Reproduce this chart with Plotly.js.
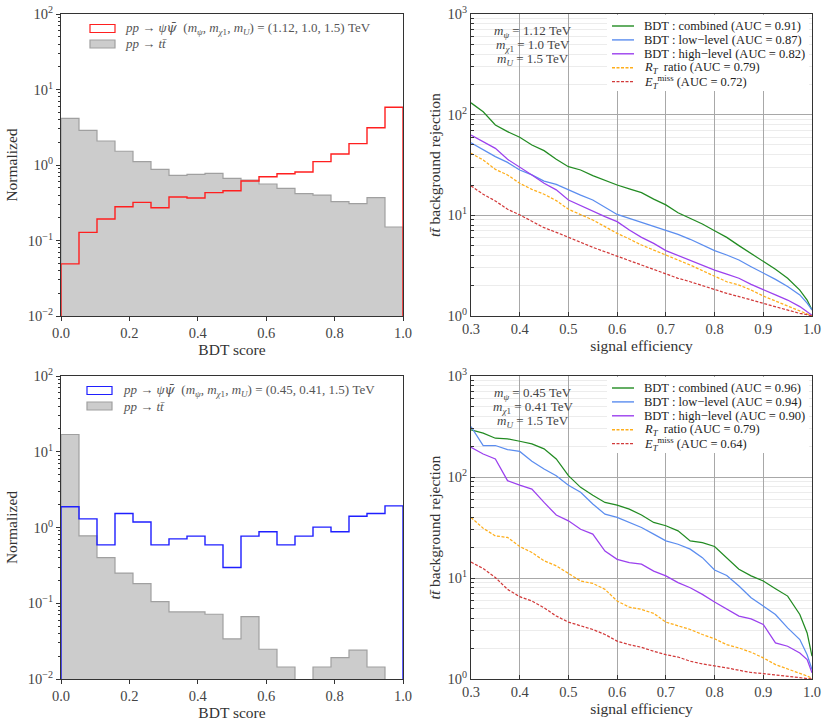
<!DOCTYPE html>
<html>
<head>
<meta charset="utf-8">
<script src="https://cdn.plot.ly/plotly-3.0.1.min.js"></script>
<style>
  body { margin: 0; background: #fff; }
  #plot { width: 830px; height: 726px; }
</style>
</head>
<body>
<div id="plot"></div>
<script>
// ---- histogram data: 19 equal bins of BDT score on [0, 1] ----
const nBins = 19;
const sigTop = [0.049, 0.128, 0.193, 0.28, 0.32, 0.272, 0.377, 0.366, 0.43, 0.457, 0.614, 0.70, 0.767, 0.807, 1.107, 1.40, 1.92, 3.12, 5.81];
const bkgTop = [4.15, 2.88, 2.08, 1.52, 1.107, 0.877, 0.73, 0.752, 0.776, 0.666, 0.63, 0.56, 0.49, 0.417, 0.40, 0.327, 0.307, 0.369, 0.151];
const sigBot = [1.88, 1.30, 0.59, 1.53, 1.18, 0.59, 0.708, 0.77, 0.59, 0.296, 0.77, 0.877, 0.59, 0.77, 1.01, 0.877, 1.41, 1.53, 1.93];
const bkgBot = [16.9, 0.776, 0.40, 0.25, 0.182, 0.105, 0.0768, 0.0768, 0.0716, 0.0338, 0.0667, 0.0247, 0.0144, 0, 0.0144, 0.0191, 0.0240, 0.0144, 0];

// ---- ROC curves: background rejection vs signal efficiency ----
const effPts = [0.30, 0.325, 0.35, 0.375, 0.40, 0.425, 0.45, 0.475, 0.50, 0.525, 0.55, 0.575, 0.60, 0.625, 0.65, 0.675,
                0.70, 0.725, 0.75, 0.775, 0.80, 0.825, 0.85, 0.875, 0.90, 0.925, 0.95, 0.975, 0.99, 1.0];
// heavy point (1.12, 1.0, 1.5) TeV
const combA = [131, 107, 79, 67.8, 59.6, 50, 43.9, 36, 30.4, 28.2, 24.8, 22.1, 20, 18.3, 16.8, 14.5, 12.7, 10.6, 9.33, 8.2, 7.04, 6.04, 5.0, 4.2, 3.52, 2.91, 2.37, 1.81, 1.44, 1.15];
const lowA  = [52.7, 44.6, 38.3, 33.6, 28.2, 25.2, 21.9, 20.3, 17.9, 15.9, 14.2, 12.0, 10.2, 9.33, 8.52, 7.72, 6.99, 6.47, 5.78, 5.07, 4.46, 4.04, 3.6, 3.09, 2.69, 2.31, 1.96, 1.62, 1.34, 1.15];
const highA = [62.8, 53.9, 46.3, 36, 30.4, 25.2, 20.8, 17.9, 14.2, 12.5, 10.9, 9.7, 8.65, 7.15, 6.04, 5.27, 4.46, 3.98, 3.6, 3.21, 2.86, 2.61, 2.37, 2.06, 1.81, 1.62, 1.44, 1.24, 1.1, 1.02];
const rtA   = [41.3, 35.5, 28.6, 25.2, 20.8, 18.1, 16.2, 14.0, 11.5, 10.2, 9.0, 7.72, 6.62, 5.82, 5.07, 4.52, 4.04, 3.55, 3.21, 2.82, 2.5, 2.19, 2.03, 1.81, 1.58, 1.41, 1.26, 1.13, 1.06, 1.0];
const metA  = [19.6, 16.2, 13.9, 11.5, 10.1, 8.79, 7.54, 6.78, 6.04, 5.39, 4.81, 4.35, 3.94, 3.52, 3.21, 2.91, 2.65, 2.37, 2.19, 2.0, 1.81, 1.68, 1.56, 1.44, 1.34, 1.24, 1.15, 1.06, 1.03, 1.0];
// light point (0.45, 0.41, 1.5) TeV
const combB = [293, 272, 242, 239, 226, 213, 190, 151, 103, 79, 66, 56, 52.7, 48.1, 42, 35.5, 32.9, 29.3, 23.3, 22.4, 20.5, 15.9, 12.2, 10.5, 9.33, 7.83, 6.62, 4.35, 2.86, 1.68];
const lowB  = [316, 205, 205, 187, 179, 143, 120, 103, 83, 70.5, 54, 42.9, 39.8, 35.5, 31.6, 27.2, 23.3, 21.6, 19.3, 15.9, 12.0, 10.6, 8.33, 6.38, 5.27, 4.35, 3.21, 2.46, 1.74, 1.24];
const highB = [197, 169, 151, 92, 83, 76, 56, 42, 36.8, 30.4, 27.2, 18.5, 15.3, 14.2, 13.7, 11.7, 10.5, 9.0, 8.0, 6.88, 5.78, 4.89, 4.2, 3.94, 3.47, 2.28, 2.11, 1.81, 1.56, 1.15];
const rtB   = [39.7, 31.1, 26.1, 25.2, 20.5, 17.9, 14.8, 13.2, 11.1, 9.33, 8.85, 7.72, 5.91, 5.15, 4.89, 4.46, 3.66, 3.39, 3.09, 2.76, 2.5, 2.19, 2.03, 1.84, 1.62, 1.39, 1.26, 1.15, 1.07, 1.02];
const metB  = [14.4, 12.4, 10.1, 7.72, 6.53, 5.91, 5.07, 4.2, 3.66, 3.34, 3.09, 2.76, 2.37, 2.19, 2.06, 1.88, 1.74, 1.65, 1.5, 1.41, 1.36, 1.29, 1.22, 1.16, 1.13, 1.09, 1.06, 1.03, 1.01, 1.0];

// ---- labels ----
const psiBar = '<span style="font-family:DejaVu Serif">ψ̄</span>';
const histLabelsTop = ['<i>pp</i> → <i>ψ' + psiBar + '</i>  (<i>m<sub>ψ</sub></i>, <i>m</i><sub><i>χ</i>1</sub>, <i>m<sub>U</sub></i>) = (1.12, 1.0, 1.5) TeV',
                       '<i>pp</i> → <i>tt̄</i>'];
const histLabelsBot = ['<i>pp</i> → <i>ψ' + psiBar + '</i>  (<i>m<sub>ψ</sub></i>, <i>m</i><sub><i>χ</i>1</sub>, <i>m<sub>U</sub></i>) = (0.45, 0.41, 1.5) TeV',
                       '<i>pp</i> → <i>tt̄</i>'];
const rocNames = ['BDT : combined', 'BDT : low−level', 'BDT : high−level', '<i>R<sub>T</sub></i>  ratio', '<i>E</i><sub><i>T</i></sub><sup>miss</sup>'];
const aucTop = ['0.91', '0.87', '0.82', '0.79', '0.72'];
const aucBot = ['0.96', '0.94', '0.90', '0.79', '0.64'];
const massTop = ['<i>m<sub>ψ</sub></i> = 1.12 TeV', '<i>m</i><sub><i>χ</i>1</sub> = 1.0 TeV', '<i>m<sub>U</sub></i> = 1.5 TeV'];
const massBot = ['<i>m<sub>ψ</sub></i> = 0.45 TeV', '<i>m</i><sub><i>χ</i>1</sub> = 0.41 TeV', '<i>m<sub>U</sub></i> = 1.5 TeV'];

const rocColors = ['#228b22', '#5b8def', '#9b40ee', '#ffae1a', '#d23a3a'];
const rocDash = ['solid', 'solid', 'solid', '3px,1.6px', '3px,1.6px'];

const FONT = 'Liberation Serif, DejaVu Serif, serif';
const W = 830, H = 726;
const px = v => v / W;
const py = v => 1 - v / H;

// plot boxes in pixels: [left, right, top, bottom]
const boxTL = [61, 403, 14, 316], boxTR = [471, 812, 14, 316];
const boxBL = [61, 403, 376, 679], boxBR = [471, 812, 376, 679];

const histRange = [-2, 2], rocRange = [0, 3];
const edges = Array.from({length: nBins + 1}, (_, i) => i / nBins);

function stepOutline(vals, floor) {
  const xs = [edges[0]], ys = [floor];
  vals.forEach((v, i) => {
    const h = v > 0 ? v : floor;
    xs.push(edges[i], edges[i + 1]);
    ys.push(h, h);
  });
  xs.push(edges[nBins]); ys.push(floor);
  return {x: xs, y: ys};
}

function powLabels(lo, hi) {
  const vals = [], text = [], minor = [];
  for (let e = lo; e <= hi; e++) {
    vals.push(Math.pow(10, e));
    text.push('10<sup>' + (e < 0 ? '−' + (-e) : e) + '</sup>');
    if (e < hi) for (let d = 2; d <= 9; d++) minor.push(d * Math.pow(10, e));
  }
  return {vals, text, minor};
}

let traces = [];

function addHist(sig, bkg, sigColor, xa, ya) {
  const floor = Math.pow(10, histRange[0] - 1);
  const b = stepOutline(bkg, floor), s = stepOutline(sig, floor);
  traces.push({x: b.x, y: b.y, xaxis: xa, yaxis: ya, type: 'scatter', mode: 'lines',
    fill: 'toself', fillcolor: '#cccccc', line: {color: '#a0a0a0', width: 1.2}, hoverinfo: 'skip'});
  traces.push({x: s.x, y: s.y, xaxis: xa, yaxis: ya, type: 'scatter', mode: 'lines',
    line: {color: sigColor, width: 1.4}, hoverinfo: 'skip'});
}

function addRoc(curves, xa, ya) {
  curves.forEach((c, i) => {
    traces.push({x: effPts, y: c, xaxis: xa, yaxis: ya, type: 'scatter', mode: 'lines',
      line: {color: rocColors[i], width: 1.25, dash: rocDash[i]}});
  });
}

addHist(sigTop, bkgTop, '#ff1f1f', 'x', 'y');
addRoc([combA, lowA, highA, rtA, metA], 'x2', 'y2');
addHist(sigBot, bkgBot, '#1f1fff', 'x3', 'y3');
addRoc([combB, lowB, highB, rtB, metB], 'x4', 'y4');

const hp = powLabels(histRange[0], histRange[1]);
const rp = powLabels(rocRange[0], rocRange[1]);

const tickFont = {family: FONT, size: 14.5, color: '#444'};
const titleFont = {family: FONT, size: 15.5, color: '#333'};

function histX(box, anchor) {
  return {domain: [px(box[0]), px(box[1])], anchor: anchor, range: [0, 1], dtick: 0.2, tickformat: '.1f',
    ticks: 'outside', ticklen: 4, tickcolor: '#333', showline: true, mirror: true, linecolor: '#333', linewidth: 1,
    showgrid: false, zeroline: false, tickfont: tickFont,
    title: {text: 'BDT score', font: titleFont, standoff: 0}};
}
function histY(box, anchor) {
  return {domain: [py(box[3]), py(box[2])], anchor: anchor, type: 'log', range: histRange,
    tickmode: 'array', tickvals: hp.vals, ticktext: hp.text,
    ticks: 'outside', ticklen: 4, tickcolor: '#333', showline: true, mirror: true, linecolor: '#333', linewidth: 1,
    minor: {tickmode: 'array', tickvals: hp.minor, ticks: 'outside', ticklen: 2.5, tickcolor: '#333', showgrid: false},
    showgrid: false, zeroline: false, tickfont: tickFont,
    title: {text: 'Normalized', font: titleFont, standoff: 6}};
}
function rocX(box, anchor) {
  return {domain: [px(box[0]), px(box[1])], anchor: anchor, range: [0.3, 1.0], dtick: 0.1, tick0: 0.3, tickformat: '.1f',
    ticks: 'inside', ticklen: 4, tickcolor: '#333', showline: true, mirror: true, linecolor: '#333', linewidth: 1,
    showgrid: true, gridcolor: '#a8a8a8', gridwidth: 1, zeroline: false, tickfont: tickFont,
    title: {text: 'signal efficiency', font: titleFont, standoff: 0}};
}
function rocY(box, anchor) {
  return {domain: [py(box[3]), py(box[2])], anchor: anchor, type: 'log', range: rocRange,
    tickmode: 'array', tickvals: rp.vals, ticktext: rp.text,
    ticks: 'inside', ticklen: 4, tickcolor: '#333', showline: true, mirror: true, linecolor: '#333', linewidth: 1,
    minor: {tickmode: 'array', tickvals: rp.minor, ticks: 'inside', ticklen: 2.5, tickcolor: '#333',
            showgrid: true, gridcolor: '#ececec', gridwidth: 1},
    showgrid: true, gridcolor: '#a8a8a8', gridwidth: 1, zeroline: false, tickfont: tickFont,
    title: {text: '<i>tt̄</i> background rejection', font: titleFont, standoff: 3}};
}

let shapes = [], annotations = [];

function histLegend(box, labels, sigColor, patchX, textX) {
  labels.forEach((lab, i) => {
    const yc = box[2] + 14.5 + i * 15.5;
    shapes.push({type: 'rect', xref: 'paper', yref: 'paper', x0: px(patchX), x1: px(patchX + 25),
      y0: py(yc - 4), y1: py(yc + 4),
      fillcolor: i === 0 ? '#ffffff' : '#cccccc', line: {color: i === 0 ? sigColor : '#a0a0a0', width: 1.2}});
    annotations.push({xref: 'paper', yref: 'paper', x: px(textX), y: py(yc), xanchor: 'left', yanchor: 'middle',
      text: lab, showarrow: false, font: {family: FONT, size: 13, color: '#555'}});
  });
}

function rocLegend(box, auc, masses) {
  shapes.push({type: 'rect', xref: 'paper', yref: 'paper', x0: px(607), x1: px(box[1] - 3),
    y0: py(box[2] + 77), y1: py(box[2] + 1), fillcolor: '#ffffff', line: {width: 0}, layer: 'above'});
  rocNames.forEach((name, i) => {
    const yc = box[2] + 12 + i * 13.9;
    shapes.push({type: 'line', xref: 'paper', yref: 'paper', x0: px(612), x1: px(634), y0: py(yc), y1: py(yc),
      line: {color: rocColors[i], width: 1.4, dash: rocDash[i] === 'solid' ? 'solid' : '3px,1.5px'}});
    annotations.push({xref: 'paper', yref: 'paper', x: px(642), y: py(yc), xanchor: 'left', yanchor: 'middle',
      text: name + ' (AUC = ' + auc[i] + ')', showarrow: false, font: {family: FONT, size: 12.5, color: '#222'}});
  });
  masses.forEach((m, i) => {
    annotations.push({xref: 'paper', yref: 'paper', x: px(533), y: py(box[2] + 17 + i * 14.4),
      xanchor: 'center', yanchor: 'middle', text: m, showarrow: false,
      font: {family: FONT, size: 13, color: '#444'}});
  });
}

histLegend(boxTL, histLabelsTop, '#ff1f1f', 90, 123);
histLegend(boxBL, histLabelsBot, '#1f1fff', 87, 120.5);
rocLegend(boxTR, aucTop, massTop);
rocLegend(boxBR, aucBot, massBot);

const layout = {
  width: W, height: H,
  margin: {l: 0, r: 0, t: 0, b: 0},
  paper_bgcolor: '#ffffff', plot_bgcolor: '#ffffff',
  showlegend: false,
  font: {family: FONT, color: '#333'},
  xaxis: histX(boxTL, 'y'),   yaxis: histY(boxTL, 'x'),
  xaxis2: rocX(boxTR, 'y2'),  yaxis2: rocY(boxTR, 'x2'),
  xaxis3: histX(boxBL, 'y3'), yaxis3: histY(boxBL, 'x3'),
  xaxis4: rocX(boxBR, 'y4'),  yaxis4: rocY(boxBR, 'x4'),
  shapes: shapes,
  annotations: annotations
};

Plotly.newPlot('plot', traces, layout, {staticPlot: true, displayModeBar: false});
</script>
</body>
</html>
